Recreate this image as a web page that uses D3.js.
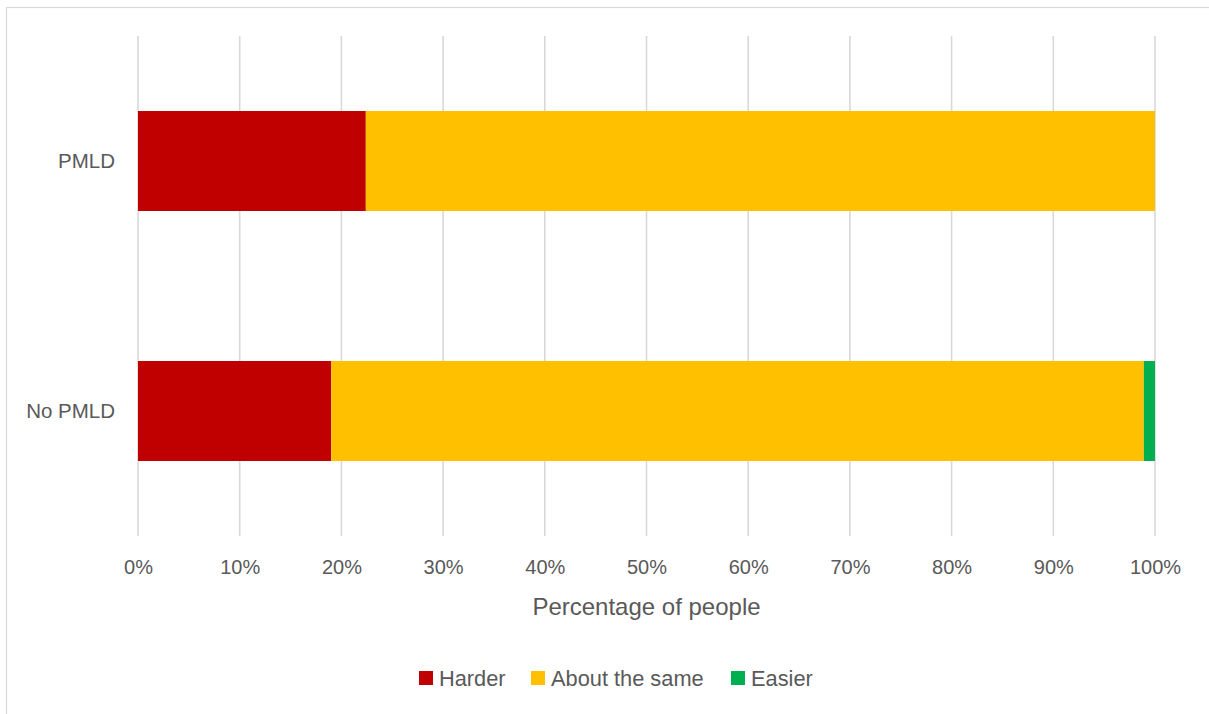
<!DOCTYPE html>
<html>
<head>
<meta charset="utf-8">
<script src="https://cdn.jsdelivr.net/npm/d3@7"></script>
<style>
  html, body { margin: 0; padding: 0; background: #fff; }
  svg { display: block; }
  text { font-family: "Liberation Sans", Arial, sans-serif; fill: #595959; }
</style>
</head>
<body>
<svg id="chart" width="1209" height="714"></svg>
<script>
const categories = ["PMLD", "No PMLD"];
const seriesNames = ["Harder", "About the same", "Easier"];
const harder = [22.4, 19.0];
const aboutSame = [77.6, 79.9];
const easier = [0.0, 1.1];
const seriesColors = ["#C00000", "#FFC000", "#00B050"];
const tickValues = [0, 10, 20, 30, 40, 50, 60, 70, 80, 90, 100];

const svg = d3.select("#chart");
const W = 1209, H = 714;
const plot = { left: 138, right: 1155, top: 36, bottom: 536 };

// outer border
svg.append("rect")
  .attr("x", 6.5).attr("y", 7.5)
  .attr("width", W + 20).attr("height", H + 20)
  .attr("fill", "none").attr("stroke", "#d9d9d9").attr("stroke-width", 1.2);

const x = d3.scaleLinear().domain([0, 100]).range([plot.left, plot.right]);
const y = d3.scaleBand().domain(categories).range([plot.top, plot.bottom]).paddingInner(0.6).paddingOuter(0.3);

// gridlines
svg.append("g").selectAll("line").data(tickValues).join("line")
  .attr("x1", d => x(d)).attr("x2", d => x(d))
  .attr("y1", plot.top).attr("y2", plot.bottom)
  .attr("stroke", "#d9d9d9").attr("stroke-width", 1.6);

// stacked data
const rows = categories.map((c, i) => ({ cat: c, "Harder": harder[i], "About the same": aboutSame[i], "Easier": easier[i] }));
const stack = d3.stack().keys(seriesNames)(rows);
const color = d3.scaleOrdinal().domain(seriesNames).range(seriesColors);

svg.append("g").selectAll("g").data(stack).join("g")
  .attr("fill", s => color(s.key))
  .selectAll("rect").data(s => s).join("rect")
  .attr("x", d => x(d[0]))
  .attr("width", d => Math.max(0, x(d[1]) - x(d[0])))
  .attr("y", d => y(d.data.cat))
  .attr("height", y.bandwidth());

// x axis labels
const xAxis = d3.axisBottom(x).tickValues(tickValues).tickFormat(d => d + "%").tickSize(0).tickPadding(0);
const gx = svg.append("g").attr("transform", `translate(0, 560)`).call(xAxis);
gx.select(".domain").remove();
gx.selectAll("text").attr("font-size", 20).attr("dy", "0.71em")
  .style("font-family", "'Liberation Sans', Arial, sans-serif").attr("fill", "#595959");

// y axis labels
const yAxis = d3.axisLeft(y).tickSize(0).tickPadding(23);
const gy = svg.append("g").attr("transform", `translate(${plot.left}, 0)`).call(yAxis);
gy.select(".domain").remove();
gy.selectAll("text").attr("font-size", 20.5)
  .style("font-family", "'Liberation Sans', Arial, sans-serif").attr("fill", "#595959");

// axis title
svg.append("text")
  .attr("x", (plot.left + plot.right) / 2).attr("y", 615)
  .attr("text-anchor", "middle").attr("font-size", 24)
  .text("Percentage of people");

// legend
const legendX = [419, 531, 731];
const lg = svg.append("g").selectAll("g").data(seriesNames).join("g")
  .attr("transform", (d, i) => `translate(${legendX[i]}, 671)`);
lg.append("rect").attr("width", 14).attr("height", 14).attr("fill", d => color(d));
lg.append("text").attr("x", 20).attr("y", 14.5).attr("font-size", 21.8).text(d => d);
</script>
</body>
</html>
